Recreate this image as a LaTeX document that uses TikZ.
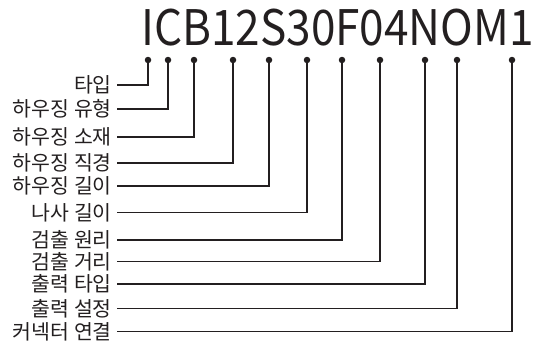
\documentclass[tikz,border=0pt]{standalone}
\usepackage{fontspec}
\newfontfamily\kr{Noto Sans CJK KR}
\usetikzlibrary{positioning}

\definecolor{ink}{HTML}{231F20}

\tikzset{
  codedot/.style={circle, fill=ink, inner sep=0pt, minimum size=6.5pt},
  partlabel/.style={anchor=east, inner xsep=5pt, inner ysep=0pt,
    text height=15.5pt, text depth=0pt, font=\kr\fontsize{20.5}{20.5}\selectfont, text=ink},
  leader/.style={draw=ink, line width=1.1pt}
}

\begin{document}
\begin{tikzpicture}[x=1pt, y=-1pt]
  \useasboundingbox (0,0) rectangle (537,343);

  % code string
  \node[anchor=base, inner sep=0pt, text=ink, font=\kr\fontsize{49}{49}\selectfont]
    (code) at (337.5,45) {\scalebox{0.9}[1]{ICB12S30F04NOM1}};

  % dots under the code and their labels
  \foreach \n/\x/\y/\txt in {
      1/148/85/타입,
      2/168/109/하우징 유형,
      3/194/137/하우징 소재,
      4/233/163/하우징 직경,
      5/269/186/하우징 길이,
      6/307/212.5/나사 길이,
      7/342/240/검출 원리,
      8/380/261.5/검출 거리,
      9/425/284/출력 타입,
      10/457/308.5/출력 설정,
      11/512/331.5/커넥터 연결} {
    \node[codedot] (dot\n) at (\x,60) {};
    \node[partlabel] (lab\n) at (117,\y) {\txt};
    \draw[leader] (lab\n.east) -| (dot\n.center);
  }
\end{tikzpicture}
\end{document}
